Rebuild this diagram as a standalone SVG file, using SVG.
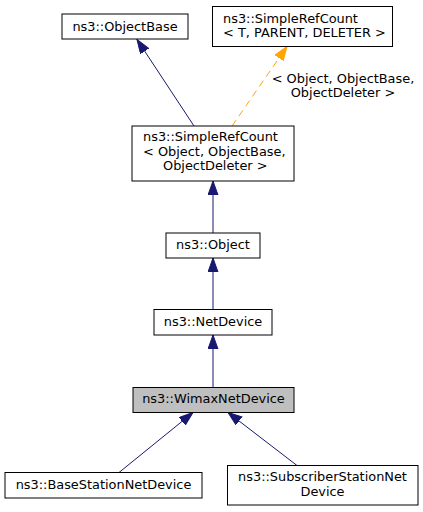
<svg xmlns="http://www.w3.org/2000/svg" width="423" height="512" viewBox="0 0 423 512">
<style>
.box{fill:#ffffff;stroke:#000000;stroke-width:1}
.hl{fill:#bfbfbf;stroke:#000000;stroke-width:1}
text{font-family:"DejaVu Sans","Liberation Sans",sans-serif;font-size:12.9px;fill:#000000}
.c{text-anchor:middle}
.e{fill:none;stroke:#191970;stroke-width:1}
.t{fill:none;stroke:#ffa500;stroke-width:1;stroke-dasharray:7,5}
</style>
<defs>
<marker id="ab" markerUnits="userSpaceOnUse" markerWidth="15" markerHeight="11" refX="14" refY="5" orient="auto" viewBox="0 0 15 11">
<path d="M0,0 L14,5 L0,10 z" fill="#191970" stroke="#191970" stroke-width="1"/>
</marker>
<marker id="ao" markerUnits="userSpaceOnUse" markerWidth="15" markerHeight="11" refX="14" refY="5" orient="auto" viewBox="0 0 15 11">
<path d="M0,0 L14,5 L0,10 z" fill="#ffa500" stroke="#ffa500" stroke-width="1"/>
</marker>
</defs>
<g id="connectors">
<path class="e" d="M194,126 L137,39.5" marker-end="url(#ab)"/>
<path class="t" d="M232,126 L287,46.5" marker-end="url(#ao)"/>
<text x="343" y="83" class="c">&lt; Object, ObjectBase,</text>
<text x="343" y="96.5" class="c">ObjectDeleter &gt;</text>
<path class="e" d="M213,233 L213,181" marker-end="url(#ab)"/>
<path class="e" d="M213,309 L213,258" marker-end="url(#ab)"/>
<path class="e" d="M213,387 L213,335" marker-end="url(#ab)"/>
<path class="e" d="M119,472.5 L193,412.5" marker-end="url(#ab)"/>
<path class="e" d="M297,465.5 L228,412.5" marker-end="url(#ab)"/>
</g>
<g id="node-objectbase">
<rect class="box" x="62" y="14" width="126" height="25"/>
<text x="125" y="30.5" class="c">ns3::ObjectBase</text>
</g>
<g id="node-simplerefcount-template">
<rect class="box" x="212.5" y="6.5" width="180" height="40"/>
<text x="223" y="22.5">ns3::SimpleRefCount</text>
<text x="223" y="36.5">&lt; T, PARENT, DELETER &gt;</text>
</g>
<g id="node-simplerefcount-object">
<rect class="box" x="132" y="126" width="162" height="55"/>
<text x="143" y="140.5">ns3::SimpleRefCount</text>
<text x="143" y="155.5">&lt; Object, ObjectBase,</text>
<text x="163" y="170">ObjectDeleter &gt;</text>
</g>
<g id="node-object">
<rect class="box" x="166" y="233" width="94" height="25"/>
<text x="213" y="248.5" class="c">ns3::Object</text>
</g>
<g id="node-netdevice">
<rect class="box" x="154" y="309.5" width="118" height="25.5"/>
<text x="213" y="325.5" class="c">ns3::NetDevice</text>
</g>
<g id="node-wimaxnetdevice">
<rect class="hl" x="133" y="387.5" width="161" height="25"/>
<text x="213.5" y="403" class="c">ns3::WimaxNetDevice</text>
</g>
<g id="node-basestationnetdevice">
<rect class="box" x="5" y="472.5" width="197" height="25.5"/>
<text x="103.5" y="488.5" class="c">ns3::BaseStationNetDevice</text>
</g>
<g id="node-subscriberstationnetdevice">
<rect class="box" x="227.5" y="465.5" width="190.5" height="39.5"/>
<text x="322.5" y="481" class="c">ns3::SubscriberStationNet</text>
<text x="322.5" y="496" class="c">Device</text>
</g>
</svg>
